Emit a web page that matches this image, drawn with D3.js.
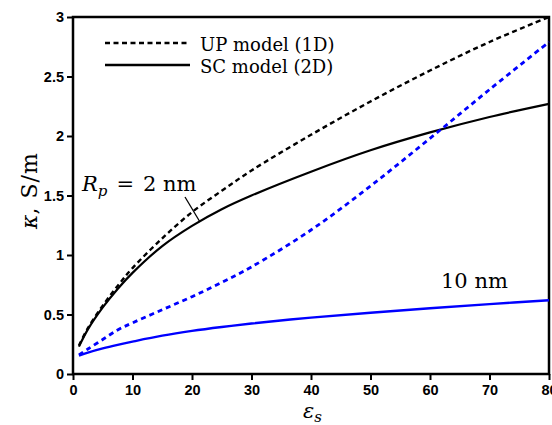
<!DOCTYPE html>
<html><head><meta charset="utf-8">
<script src="https://cdn.jsdelivr.net/npm/d3@7"></script>
<style>body{margin:0;background:#fff}svg{display:block}</style>
</head><body>
<svg id="c" width="552" height="425"></svg>
<script>
const eps       = [1, 2.5, 5, 7.5, 10, 15, 20, 25, 30, 40, 50, 60, 70, 80];
const up2nm     = [0.24, 0.385, 0.575, 0.74, 0.89, 1.14, 1.36, 1.54, 1.71, 2.01, 2.29, 2.55, 2.79, 3.00];
const sc2nm     = [0.23, 0.375, 0.56, 0.715, 0.85, 1.075, 1.245, 1.385, 1.50, 1.70, 1.88, 2.03, 2.16, 2.27];
const up10nm    = [0.16, 0.21, 0.29, 0.37, 0.43, 0.54, 0.65, 0.77, 0.90, 1.21, 1.58, 1.98, 2.39, 2.79];
const sc10nm    = [0.155, 0.18, 0.215, 0.245, 0.272, 0.322, 0.362, 0.395, 0.424, 0.474, 0.515, 0.552, 0.587, 0.62];
const xTicks = [0, 10, 20, 30, 40, 50, 60, 70, 80];
const yTicks = [0, 0.5, 1, 1.5, 2, 2.5, 3];
const legendLabels = ["UP model (1D)", "SC model (2D)"];

const svg = d3.select("#c");
const x = d3.scaleLinear().domain([0, 80]).range([73, 549]);
const y = d3.scaleLinear().domain([0, 3]).range([374, 17]);

const tickFont = "'Liberation Sans', Arial, sans-serif";
const serif = "'DejaVu Serif', serif";

// axes
const xAxis = svg.append("g").attr("transform", `translate(0,${y(0)})`)
  .call(d3.axisBottom(x).tickValues(xTicks).tickSize(6).tickPadding(5).tickFormat(d3.format("d")));
const yAxis = svg.append("g").attr("transform", `translate(${x(0)},0)`)
  .call(d3.axisLeft(y).tickValues(yTicks).tickSize(6).tickPadding(3).tickFormat(d => String(d)));
[xAxis, yAxis].forEach(g => {
  g.select(".domain").remove();
  g.selectAll(".tick line").attr("stroke", "#000").attr("stroke-width", 2);
  g.selectAll(".tick text").attr("fill", "#000").style("font-family", tickFont)
    .style("font-weight", "bold").style("font-size", "14.5px");
});
// frame
svg.append("rect").attr("x", x(0)).attr("y", y(3)).attr("width", x(80) - x(0)).attr("height", y(0) - y(3))
  .attr("fill", "none").attr("stroke", "#000").attr("stroke-width", 2.5);

const series = [
  {v: up2nm, color: "#000", dash: "5,3.5", w: 2.4},
  {v: sc2nm, color: "#000", dash: null, w: 2.2},
  {v: up10nm, color: "#0000ff", dash: "5,4", w: 2.8},
  {v: sc10nm, color: "#0000ff", dash: null, w: 2.4}
];
const line = d3.line().x(d => x(d[0])).y(d => y(d[1])).curve(d3.curveCatmullRom.alpha(0.5));
series.forEach(s => {
  svg.append("path").datum(eps.map((e, i) => [e, s.v[i]]))
    .attr("d", line).attr("fill", "none").attr("stroke", s.color)
    .attr("stroke-width", s.w).attr("stroke-dasharray", s.dash);
});

// legend
const lg = svg.append("g");
[0, 1].forEach(i => {
  const yy = 43 + i * 22;
  lg.append("line").attr("x1", 105).attr("x2", 190).attr("y1", yy).attr("y2", yy)
    .attr("stroke", "#000").attr("stroke-width", 2.4).attr("stroke-dasharray", i === 0 ? "5,3.5" : null);
  lg.append("text").attr("x", 200).attr("y", yy + 8).text(legendLabels[i])
    .style("font-family", serif).style("font-size", "18px").attr("fill", "#000");
});

// annotations
const rp = svg.append("text").attr("x", 82).attr("y", 191)
  .style("font-family", serif).style("font-size", "21px").attr("fill", "#000");
rp.append("tspan").text("R").style("font-style", "italic");
rp.append("tspan").text("p").style("font-style", "italic").style("font-size", "15px").attr("dy", 5);
rp.append("tspan").text("=").attr("dy", -5).attr("dx", 9);
rp.append("tspan").text("2 nm").attr("dx", 9);
svg.append("line").attr("x1", 185).attr("y1", 197).attr("x2", 200).attr("y2", 222)
  .attr("stroke", "#000").attr("stroke-width", 1.3);

svg.append("text").attr("x", 441).attr("y", 288).text("10 nm")
  .style("font-family", serif).style("font-size", "21px").attr("fill", "#000");

// axis labels
const yl = svg.append("text").attr("transform", "translate(37,191) rotate(-90)").attr("text-anchor", "middle")
  .style("font-family", serif).style("font-size", "22px").attr("fill", "#000");
yl.append("tspan").text("κ").style("font-style", "italic");
yl.append("tspan").text(",");
yl.append("tspan").text("S").attr("dx", 9);
yl.append("tspan").text("/").attr("dx", 1);
yl.append("tspan").text("m").attr("dx", 1);

const xl = svg.append("text").attr("x", 303).attr("y", 418)
  .style("font-family", serif).style("font-size", "21px").attr("fill", "#000");
xl.append("tspan").text("ε").style("font-style", "italic");
xl.append("tspan").text("s").style("font-style", "italic").style("font-size", "15px").attr("dy", 4);
</script>
</body></html>
